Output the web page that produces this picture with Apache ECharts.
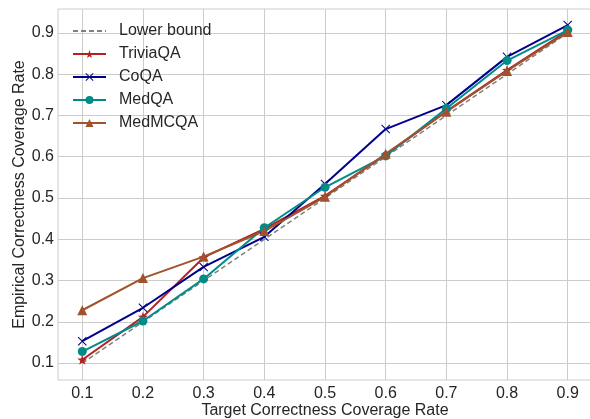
<!DOCTYPE html>
<html><head><meta charset="utf-8">
<script src="https://cdn.jsdelivr.net/npm/echarts@6/dist/echarts.min.js"></script>
<style>html,body{margin:0;padding:0;background:#fff}#c{width:590px;height:419px}</style>
</head><body><div id="c"></div>
<script>
const targets = [0.1, 0.2, 0.3, 0.4, 0.5, 0.6, 0.7, 0.8, 0.9];
const lowerBound = [0.1, 0.2, 0.3, 0.4, 0.5, 0.6, 0.7, 0.8, 0.9];
const triviaQA = [0.108, 0.212, 0.356, 0.425, 0.505, 0.605, 0.710, 0.810, 0.905];
const coQA = [0.153, 0.234, 0.333, 0.406, 0.534, 0.667, 0.725, 0.842, 0.919];
const medQA = [0.128, 0.202, 0.304, 0.428, 0.526, 0.602, 0.717, 0.833, 0.907];
const medMCQA = [0.228, 0.306, 0.358, 0.420, 0.503, 0.607, 0.709, 0.808, 0.902];
const xTicks = [0.1, 0.2, 0.3, 0.4, 0.5, 0.6, 0.7, 0.8, 0.9];
const yTicks = [0.1, 0.2, 0.3, 0.4, 0.5, 0.6, 0.7, 0.8, 0.9];

const pair = (ys) => targets.map((x, i) => [x, ys[i]]);
const STAR = 'path://M0,-10 L2.35,-3.24 L9.51,-3.09 L3.8,1.24 L5.88,8.09 L0,4 L-5.88,8.09 L-3.8,1.24 L-9.51,-3.09 L-2.35,-3.24 Z';
const CROSS = 'path://M0,-0.16 L0.84,-1 L1,-0.84 L0.16,0 L1,0.84 L0.84,1 L0,0.16 L-0.84,1 L-1,0.84 L-0.16,0 L-1,-0.84 L-0.84,-1 Z';
const font = 'Liberation Sans, Arial, sans-serif';
const txt = '#262626';

const chart = echarts.init(document.getElementById('c'), null, {renderer: 'canvas'});
function line(name, data, color, symbol, size, extra) {
  return Object.assign({
    name, type: 'line', data: pair(data), symbol, symbolSize: size,
    lineStyle: {color, width: 2}, itemStyle: {color},
    animation: false, emphasis: {disabled: true}
  }, extra || {});
}
chart.setOption({
  backgroundColor: '#fff',
  animation: false,
  grid: {left: 58, right: -2, top: 9, bottom: 39, show: true, borderColor: '#cccccc', borderWidth: 1,
    containLabel: false, outerBoundsMode: 'none'},
  xAxis: {
    type: 'value', min: 0.06, max: 0.94,
    name: 'Target Correctness Coverage Rate', nameLocation: 'middle', nameGap: 23, nameMoveOverlap: false,
    nameTextStyle: {fontFamily: font, fontSize: 16, color: txt},
    axisLine: {show: false}, axisTick: {show: false, customValues: xTicks},
    axisLabel: {customValues: xTicks, fontFamily: font, fontSize: 16, color: txt, margin: 6,
      formatter: v => v.toFixed(1)},
    splitLine: {show: true, lineStyle: {color: '#cccccc', width: 1}}
  },
  yAxis: {
    type: 'value', min: 0.059, max: 0.958,
    name: 'Empirical Correctness Coverage Rate', nameLocation: 'middle', nameGap: 30, nameMoveOverlap: false,
    nameTextStyle: {fontFamily: font, fontSize: 16, color: txt},
    axisLine: {show: false}, axisTick: {show: false, customValues: yTicks},
    axisLabel: {customValues: yTicks, fontFamily: font, fontSize: 16, color: txt, margin: 4,
      formatter: v => v.toFixed(1)},
    splitLine: {show: true, lineStyle: {color: '#cccccc', width: 1}}
  },
  legend: {
    orient: 'vertical', left: 67, top: 18, itemWidth: 33, itemHeight: 10, itemGap: 7,
    textStyle: {fontFamily: font, fontSize: 16, color: txt, padding: [0, 0, 0, 8]},
    data: [{name: 'Lower bound', itemStyle: {opacity: 0}}, 'TriviaQA', 'CoQA', 'MedQA', 'MedMCQA']
  },
  series: [
    line('Lower bound', lowerBound, '#808080', 'none', 0,
      {lineStyle: {color: '#808080', width: 1.5, type: [5, 3]}}),
    line('TriviaQA', triviaQA, '#b22222', STAR, 10),
    line('CoQA', coQA, '#00008b', CROSS, 9),
    line('MedQA', medQA, '#008b8b', 'circle', 9),
    line('MedMCQA', medMCQA, '#a0522d', 'triangle', 10)
  ]
});
</script></body></html>
